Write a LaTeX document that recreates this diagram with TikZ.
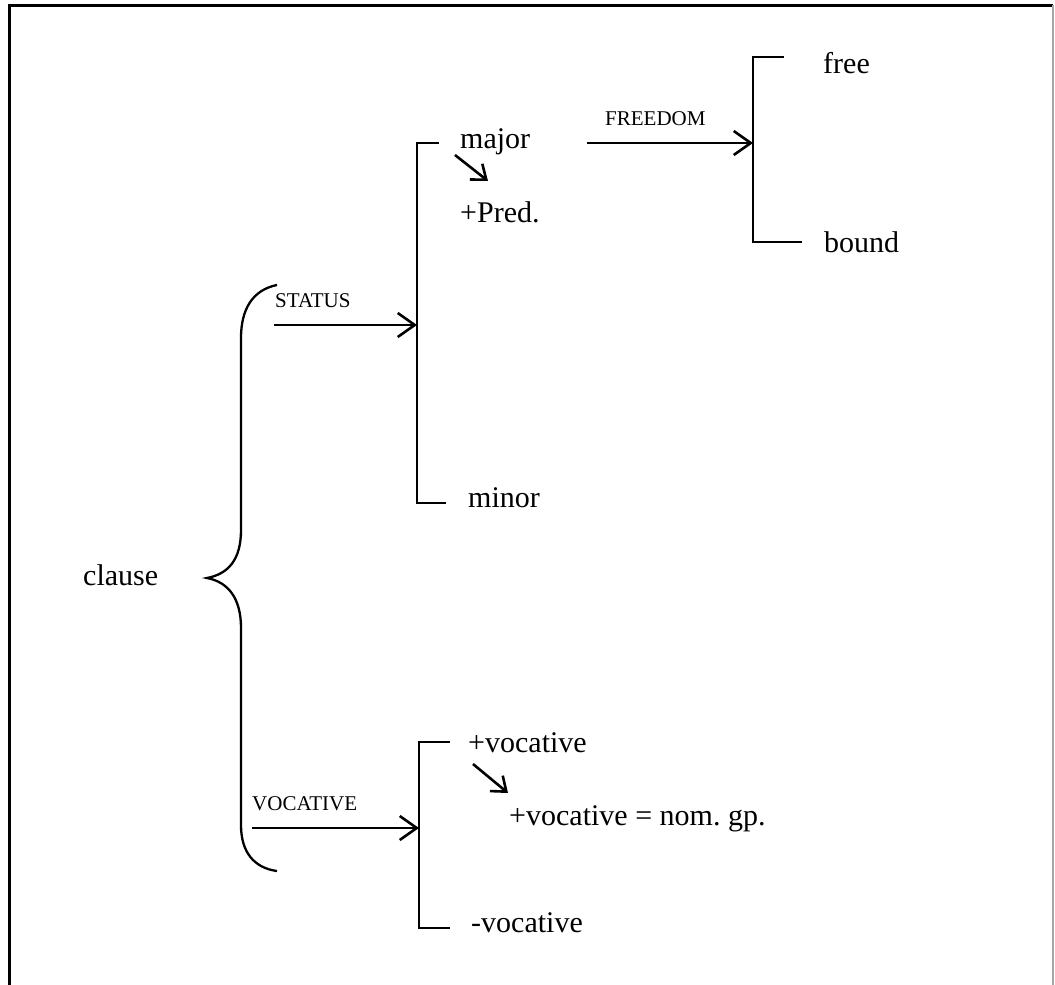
\documentclass[tikz,border=0pt]{standalone}
\usepackage{fontspec}
\setmainfont{Liberation Serif}
\frenchspacing
\usetikzlibrary{arrows.meta,positioning}
\tikzset{
  term/.style     = {anchor=base west, inner sep=0pt, font=\fontsize{30}{34}\selectfont},
  sysname/.style  = {anchor=base west, inner sep=0pt, font=\fontsize{21}{25}\selectfont},
  frame/.style    = {line width=3pt, draw=black},
  bracketline/.style = {line width=2.3pt, draw=black},
  brace/.style    = {line width=2.3pt, draw=black},
  realize/.style  = {-{Straight Barb[length=17pt,width=24pt,line width=2.6pt]}, line width=2.6pt},
  entail/.style   = {-{Straight Barb[length=13pt,width=20pt,line width=2.6pt]}, line width=2.6pt},
}

\begin{document}
\begin{tikzpicture}[x=1pt,y=-1pt]
  \useasboundingbox (0,0) rectangle (1055,985);
  % frame, open at the bottom
  \draw[frame] (9,985) -- (9,5) -- (1053,5);
  \draw[frame, draw=black!35, line width=1.6pt] (1053,5) -- (1053,985);

  \node[term] (clause) at (83,585) {clause};

  % the brace
  \draw[brace] (277,285) .. controls (252,290) and (241,310) .. (241,338)
    -- (241,530) .. controls (241,560) and (228,574) .. (207,578)
    .. controls (228,582) and (241,598) .. (241,628)
    -- (241,825) .. controls (241,852) and (254,868) .. (277,871);

  % STATUS system
  \node[sysname] (status) at (275,307) {STATUS};
  \coordinate (st-from) at (274,325);
  \coordinate (st-to) at (417,325);
  \draw[bracketline] (439,143) -| (417,503) -- (446,503);
  \draw[realize] (st-from) -- (st-to);
  \node[term] (major) at (460,148) {major};
  \node[term] (pred) at (460,222) {+Pred.};
  \node[term] (minor) at (468,507) {minor};
  \coordinate (maj-a) at (455,155);
  \coordinate (maj-b) at (488,181);
  \draw[entail] (maj-a) -- (maj-b);

  % FREEDOM system
  \node[sysname] (freedom) at (605,125) {FREEDOM};
  \coordinate (fr-from) at (587,143);
  \coordinate (fr-to) at (753,143);
  \draw[bracketline] (784,57) -| (753,242) -- (802,242);
  \draw[realize] (fr-from) -- (fr-to);
  \node[term] (free) at (823,73) {free};
  \node[term] (bound) at (824,252) {bound};

  % VOCATIVE system
  \node[sysname] (vocative) at (252,810) {VOCATIVE};
  \coordinate (vo-from) at (252,828);
  \coordinate (vo-to) at (419,828);
  \draw[bracketline] (450,742) -| (419,928) -- (450,928);
  \draw[realize] (vo-from) -- (vo-to);
  \node[term] (plusvoc) at (468,752) {+vocative};
  \node[term] (nomgp) at (509,825) {+vocative = nom. gp.};
  \node[term] (minusvoc) at (471,932) {-vocative};
  \coordinate (voc-a) at (473,764);
  \coordinate (voc-b) at (508,793);
  \draw[entail] (voc-a) -- (voc-b);
\end{tikzpicture}
\end{document}
